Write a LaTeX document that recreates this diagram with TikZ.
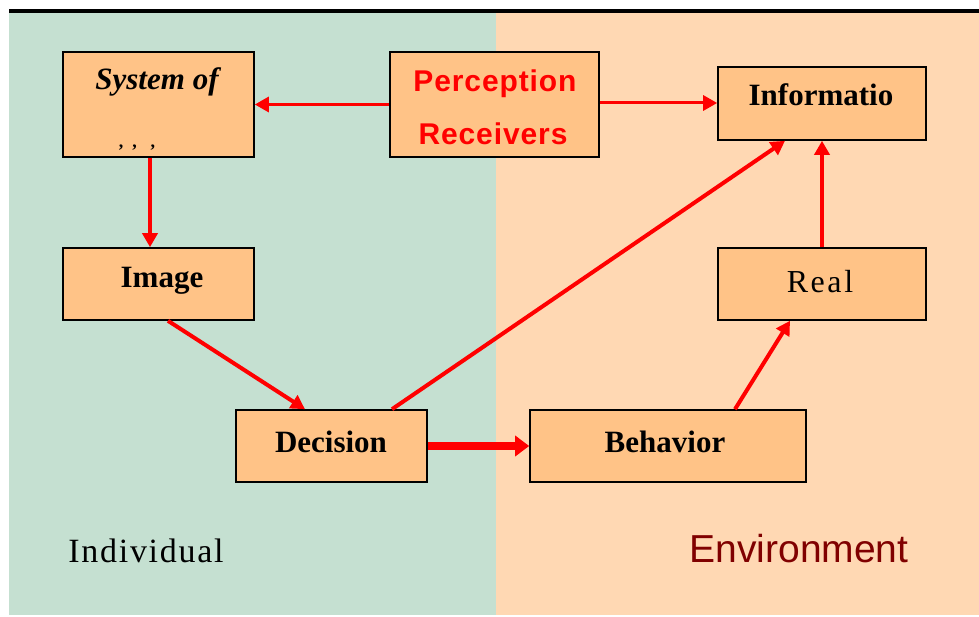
\documentclass[tikz,border=0pt]{standalone}
\usepackage{fontspec}
\setmainfont{Liberation Serif}
\setsansfont{Liberation Sans}
\newfontfamily\percfont[LetterSpace=3]{Liberation Sans}
\newfontfamily\spacedserif[LetterSpace=8]{Liberation Serif}
\newfontfamily\indserif[LetterSpace=5]{Liberation Serif}
\usetikzlibrary{arrows.meta}
\definecolor{bggreen}{HTML}{C5E0D1}
\definecolor{bgpeach}{HTML}{FFD8B3}
\definecolor{boxfill}{HTML}{FFC387}
\definecolor{envred}{HTML}{800000}
\tikzset{
  box/.style={draw=black, line width=1.6pt, fill=boxfill, inner sep=0pt},
  lbl/.style={anchor=base, inner sep=0pt, font=\fontsize{31}{33}\selectfont\bfseries},
  conn/.style={draw=red, line width=4pt, -{Triangle[length=14pt,width=15pt]}},
  thickconn/.style={draw=red, line width=8pt, -{Triangle[length=14pt,width=20pt]}}
}
\begin{document}
\begin{tikzpicture}[x=1pt,y=-1pt]
\useasboundingbox (0,0) rectangle (979,617);
\fill[white] (0,0) rectangle (979,617);
\fill[bggreen] (9,13) rectangle (496,615);
\fill[bgpeach] (496,13) rectangle (979,615);
\fill[black] (9,9) rectangle (979,13);

\node[box, minimum width=191pt, minimum height=105pt] (sys) at (158.5,104.5) {};
\node[box, minimum width=209pt, minimum height=105pt] (perc) at (494.5,104.5) {};
\node[box, minimum width=208pt, minimum height=73pt] (info) at (822,103.5) {};
\node[box, minimum width=191pt, minimum height=72pt] (img) at (158.5,284) {};
\node[box, minimum width=208pt, minimum height=72pt] (real) at (822,284) {};
\node[box, minimum width=191pt, minimum height=72pt] (dec) at (331.5,446) {};
\node[box, minimum width=276pt, minimum height=72pt] (beh) at (668,446) {};

\node[lbl, font=\fontsize{31}{33}\selectfont\bfseries\itshape] (systxt) at (157,90) {System of};
\node[lbl, font=\fontsize{18}{20}\selectfont\bfseries] (sysdots) at (137,148) {,\hspace{9pt},\hspace{14pt},};
\node[anchor=base, inner sep=0pt, text=red, font=\fontsize{30}{32}\selectfont\percfont\bfseries] (perctxt1) at (495,92) {Perception};
\node[anchor=base, inner sep=0pt, text=red, font=\fontsize{30}{32}\selectfont\percfont\bfseries] (perctxt2) at (493,145) {Receivers};
\node[lbl] (infotxt) at (821,106) {Informatio};
\node[lbl] (imgtxt) at (162,288) {Image};
\node[anchor=base, inner sep=0pt, font=\fontsize{32}{34}\selectfont\spacedserif] (realtxt) at (820,293) {Real};
\node[lbl] (dectxt) at (331,452) {Decision};
\node[lbl] (behtxt) at (665,452) {Behavior};
\node[anchor=base, inner sep=0pt, font=\fontsize{34}{36}\selectfont\indserif] (indtxt) at (146,562) {Individual};
\node[anchor=base, inner sep=0pt, text=envred, font=\fontsize{39}{41}\sffamily] (envtxt) at (799,562) {Environment};

\draw[conn, line width=3pt] (perc.west) -- (sys.east);
\draw[conn, line width=3pt] (perc.east |- 0,103) -- (info.west |- 0,103);
\draw[conn] ([xshift=-8.5pt]sys.south) -- ([xshift=-8.5pt]img.north);
\draw[conn] ([xshift=9.5pt]img.south) -- ([xshift=-26.5pt]dec.north);
\draw[conn] ([xshift=60.5pt]dec.north) -- ([xshift=-37pt]info.south);
\draw[thickconn] (dec.east) -- (beh.west);
\draw[conn] ([xshift=67pt]beh.north) -- ([xshift=-32pt]real.south);
\draw[conn] (real.north) -- (info.south);
\end{tikzpicture}
\end{document}
